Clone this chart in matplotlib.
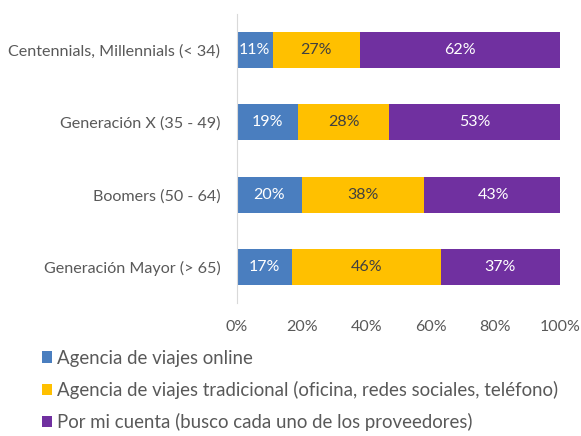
import matplotlib
matplotlib.use("Agg")
import matplotlib.pyplot as plt
import numpy as np

plt.rcParams['font.family'] = ['Lato', 'DejaVu Sans']

categories = ['Centennials, Millennials (< 34)', 'Generación X (35 - 49)',
              'Boomers (50 - 64)', 'Generación Mayor (> 65)']
online = [11, 19, 20, 17]
tradicional = [27, 28, 38, 46]
por_mi_cuenta = [62, 53, 43, 37]
series_names = ['Agencia de viajes online',
                'Agencia de viajes tradicional (oficina, redes sociales, teléfono)',
                'Por mi cuenta (busco cada uno de los proveedores)']
colors = ['#4a7ebf', '#ffc000', '#7030a0']
text_colors = ['white', '#404040', 'white']
xticks = [0, 20, 40, 60, 80, 100]

fig = plt.figure(figsize=(5.81, 4.36), dpi=100)
ax = fig.add_axes([0.408, 0.305, 0.556, 0.663])

y_pos = np.arange(len(categories))
left = np.zeros(len(categories))
handles = []
for vals, name, c, tc in zip([online, tradicional, por_mi_cuenta], series_names, colors, text_colors):
    vals = np.array(vals, dtype=float)
    bars = ax.barh(y_pos, vals, left=left, height=0.5, color=c, label=name)
    handles.append(bars)
    for x0, v, y in zip(left, vals, y_pos):
        ax.text(x0 + v / 2, y, '%d%%' % v, ha='center', va='center',
                color=tc, fontsize=11.5)
    left += vals

ax.set_yticks(y_pos)
ax.set_yticklabels(categories, fontsize=11.6, color='#595959')
ax.set_ylim(len(categories) - 0.5, -0.5)
ax.set_xlim(0, 100)
ax.set_xticks(xticks)
ax.set_xticklabels(['%d%%' % t for t in xticks], fontsize=11.5, color='#595959')
ax.tick_params(axis='both', length=0)
ax.tick_params(axis='x', pad=12)
ax.tick_params(axis='y', pad=12)
for s in ['top', 'right', 'bottom']:
    ax.spines[s].set_visible(False)
ax.spines['left'].set_color('#d9d9d9')

fig.legend(handles, series_names, loc='upper left', bbox_to_anchor=(0.072, 0.198),
           frameon=False, fontsize=13.4, handlelength=0.55, handleheight=0.55,
           handletextpad=0.25, labelspacing=0.75, labelcolor='#595959',
           borderaxespad=0, borderpad=0)

fig.savefig('out.png', dpi=100)
